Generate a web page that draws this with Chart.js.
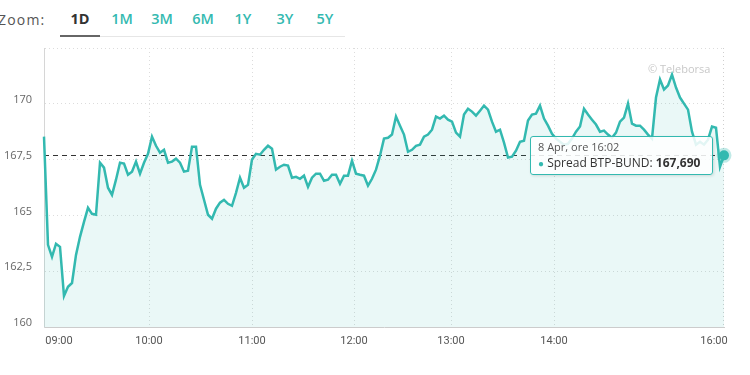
<!DOCTYPE html>
<html>
<head>
<meta charset="utf-8">
<script src="https://cdn.jsdelivr.net/npm/chart.js"></script>
<style>
  body { margin: 0; background: #fff; width: 750px; height: 375px; overflow: hidden; position: relative; font-family: "Open Sans", sans-serif; }
  #wrap { position: absolute; left: 0; top: 0; width: 750px; height: 375px; }
  .zoom-lbl { position: absolute; left: -2px; top: 10px; font-size: 14px; color: #555; letter-spacing: 1.2px; }
  .btn { position: absolute; top: 9px; font-size: 14.5px; font-weight: 600; color: #33b9b0; transform: translateX(-50%); }
  .btn.on { color: #333; font-weight: 700; }
  .sel-line { position: absolute; left: 60px; top: 35px; width: 40px; height: 2px; background: #666; }
  .row-line { position: absolute; left: 100px; top: 36px; width: 245px; height: 1px; background: #e6e6e6; }
  .credit { position: absolute; left: 648px; top: 61px; font-size: 11px; color: #c8c8c8; }
  #tip { position: absolute; box-sizing: border-box; width: 183px; height: 39px; padding: 3px 7px; background: rgba(255,255,255,0.86);
         border: 1px solid #33b9b0; border-radius: 3px; box-shadow: 1px 1px 3px rgba(0,0,0,0.12); opacity: 0; pointer-events: none; }
  #tip .t { font-size: 11px; color: #555; line-height: 14px; }
  #tip .b { font-size: 12px; color: #333; line-height: 17px; white-space: nowrap; }
  #tip .dot { color: #33b9b0; font-size: 10px; }
</style>
</head>
<body>
<div class="zoom-lbl">Zoom:</div>
<div id="buttons"></div>
<div class="sel-line"></div>
<div class="row-line"></div>
<div id="wrap"><canvas id="spread" width="750" height="375"></canvas></div>
<div class="credit">© Teleborsa</div>
<div id="tip"></div>
<script>
// range buttons above the chart
const rangeButtons = ['1D', '1M', '3M', '6M', '1Y', '3Y', '5Y'];
const rangeButtonX = [80, 122, 162, 203, 243, 285, 325];

// intraday spread values, one every few minutes
const spreadValues = [
  168.53, 163.68, 163.14, 163.73, 163.59, 161.39, 161.80, 161.97, 163.23, 164.04,
  164.71, 165.34, 165.07, 165.03, 167.36, 167.14, 166.24, 165.92, 166.60, 167.36,
  167.32, 166.82, 166.96, 167.41, 166.87, 167.36, 167.76, 168.53, 168.12, 167.81,
  167.94, 167.36, 167.41, 167.54, 167.36, 166.96, 167.00, 168.08, 168.08, 166.37,
  165.70, 165.03, 164.85, 165.30, 165.57, 165.70, 165.52, 165.43, 166.01, 166.69,
  166.24, 166.37, 167.50, 167.76, 167.72, 167.94, 168.12, 167.99, 167.05, 167.18,
  167.27, 167.23, 166.69, 166.73, 166.64, 166.78, 166.28, 166.69, 166.87, 166.87,
  166.55, 166.60, 166.82, 166.82, 166.42, 166.78, 166.78, 167.45, 166.87, 166.82,
  166.78, 166.33, 166.64, 167.05, 167.68, 168.44, 168.48, 168.62, 169.43, 169.02,
  168.62, 167.85, 167.94, 168.12, 168.17, 168.53, 168.62, 168.84, 169.43, 169.34,
  169.47, 169.29, 169.20, 168.71, 168.53, 169.52, 169.78, 169.65, 169.47, 169.69,
  169.92, 169.74, 169.20, 168.75, 168.84, 168.26, 167.59, 167.63, 167.90, 168.30,
  168.35, 169.25, 169.52, 169.56, 169.92, 169.34, 169.02, 168.66, 168.44, 168.30,
  168.17, 168.21, 168.44, 168.75, 168.98, 169.78, 169.52, 169.29, 169.07, 168.75,
  168.80, 168.62, 168.48, 168.71, 169.20, 169.38, 170.01, 169.11, 169.02, 169.02,
  168.84, 168.62, 168.44, 170.28, 171.09, 170.64, 170.82, 171.31, 170.73, 170.28,
  170.01, 169.74, 168.75, 168.17, 168.30, 168.17, 168.39, 168.98, 168.93, 167.18,
  167.69
];

// hour labels and where they fall along the (ordinal) sample index
const hourLabels = ['09:00', '10:00', '11:00', '12:00', '13:00', '14:00', '16:00'];
const hourIndex = [3.75, 26.25, 52, 77.5, 101.75, 127.5, 167.5];

const yTicks = [160, 162.5, 165, 167.5, 170, 172.5];
const seriesName = 'Spread BTP-BUND';
const lastStamp = '8 Apr, ore 16:02';

const teal = '#33b9b0';
const lastIdx = spreadValues.length - 1;

document.getElementById('buttons').innerHTML = rangeButtons.map((b, i) =>
  `<div class="btn${i === 0 ? ' on' : ''}" style="left:${rangeButtonX[i]}px">${b}</div>`).join('');

function itNum(v, digits) {
  return v.toFixed(digits).replace('.', ',');
}

// dashed line at the current value + right frame line
const currentLine = {
  id: 'currentLine',
  beforeDatasetsDraw(chart) {
    const { ctx, chartArea } = chart;
    const y = chart.scales.y.getPixelForValue(spreadValues[lastIdx]);
    ctx.save();
    ctx.strokeStyle = '#333';
    ctx.lineWidth = 1;
    ctx.setLineDash([5, 4]);
    ctx.beginPath();
    ctx.moveTo(chartArea.left, Math.round(y) + 0.5);
    ctx.lineTo(chartArea.right, Math.round(y) + 0.5);
    ctx.stroke();
    ctx.setLineDash([1, 3]);
    ctx.strokeStyle = '#cfcfcf';
    ctx.beginPath();
    ctx.moveTo(chartArea.right - 0.5, chartArea.top);
    ctx.lineTo(chartArea.right - 0.5, chartArea.bottom);
    ctx.stroke();
    ctx.restore();
  }
};

function externalTip(context) {
  const { tooltip } = context;
  const el = document.getElementById('tip');
  if (tooltip.opacity === 0 || !tooltip.dataPoints) {
    el.style.opacity = 0;
    return;
  }
  const dp = tooltip.dataPoints[0];
  el.innerHTML = `<div class="t">${tooltip.title[0]}</div>` +
    `<div class="b"><span class="dot">●</span> ${dp.dataset.label}: <b>${itNum(dp.parsed.y, 3)}</b></div>`;
  el.style.left = (tooltip.caretX - 11 - el.offsetWidth) + 'px';
  el.style.top = (tooltip.caretY - el.offsetHeight / 2) + 'px';
  el.style.opacity = 1;
}

const chart = new Chart(document.getElementById('spread'), {
  type: 'line',
  data: {
    datasets: [{
      label: seriesName,
      data: spreadValues.map((v, i) => ({ x: i, y: v })),
      borderColor: teal,
      borderWidth: 2.5,
      backgroundColor: 'rgba(51,185,176,0.1)',
      fill: 'start',
      tension: 0,
      clip: false,
      pointRadius: (c) => c.dataIndex === lastIdx ? 5 : 0,
      pointBackgroundColor: teal,
      pointBorderColor: 'rgba(51,185,176,0.3)',
      pointBorderWidth: 5,
    }]
  },
  options: {
    responsive: false,
    animation: false,
    events: [],
    layout: { padding: { top: 48, right: 26, left: 0, bottom: 0 } },
    plugins: {
      legend: { display: false },
      tooltip: {
        enabled: false,
        external: externalTip,
        callbacks: { title: () => lastStamp }
      }
    },
    scales: {
      x: {
        type: 'linear',
        min: 0,
        max: lastIdx,
        afterBuildTicks: (scale) => { scale.ticks = hourIndex.map(v => ({ value: v })); },
        afterFit: (scale) => { scale.height = 48; },
        ticks: {
          autoSkip: false,
          maxRotation: 0,
          padding: 8,
          color: '#555',
          font: { family: 'Roboto', size: 11 },
          callback: (v, i) => hourLabels[i]
        },
        grid: {
          drawTicks: false,
          color: (c) => (c.index === 0 || c.index === hourLabels.length - 1) ? 'rgba(0,0,0,0)' : '#dcdcdc'
        },
        border: { display: true, color: '#cccccc', dash: [1, 3] }
      },
      y: {
        min: yTicks[0],
        max: yTicks[yTicks.length - 1],
        afterBuildTicks: (scale) => { scale.ticks = yTicks.map(v => ({ value: v })); },
        afterFit: (scale) => { scale.width = 44; },
        ticks: {
          padding: 12,
          labelOffset: -4,
          color: '#666',
          font: { family: 'Open Sans', size: 11 },
          callback: (v) => v === 172.5 ? '' : itNum(v, v % 1 ? 1 : 0)
        },
        grid: { drawTicks: false, color: '#dcdcdc' },
        border: { display: true, color: '#d6d6d6', dash: [1, 3] }
      }
    }
  },
  plugins: [currentLine]
});

chart.tooltip.setActiveElements([{ datasetIndex: 0, index: lastIdx }], { x: 0, y: 0 });
</script>
</body>
</html>
